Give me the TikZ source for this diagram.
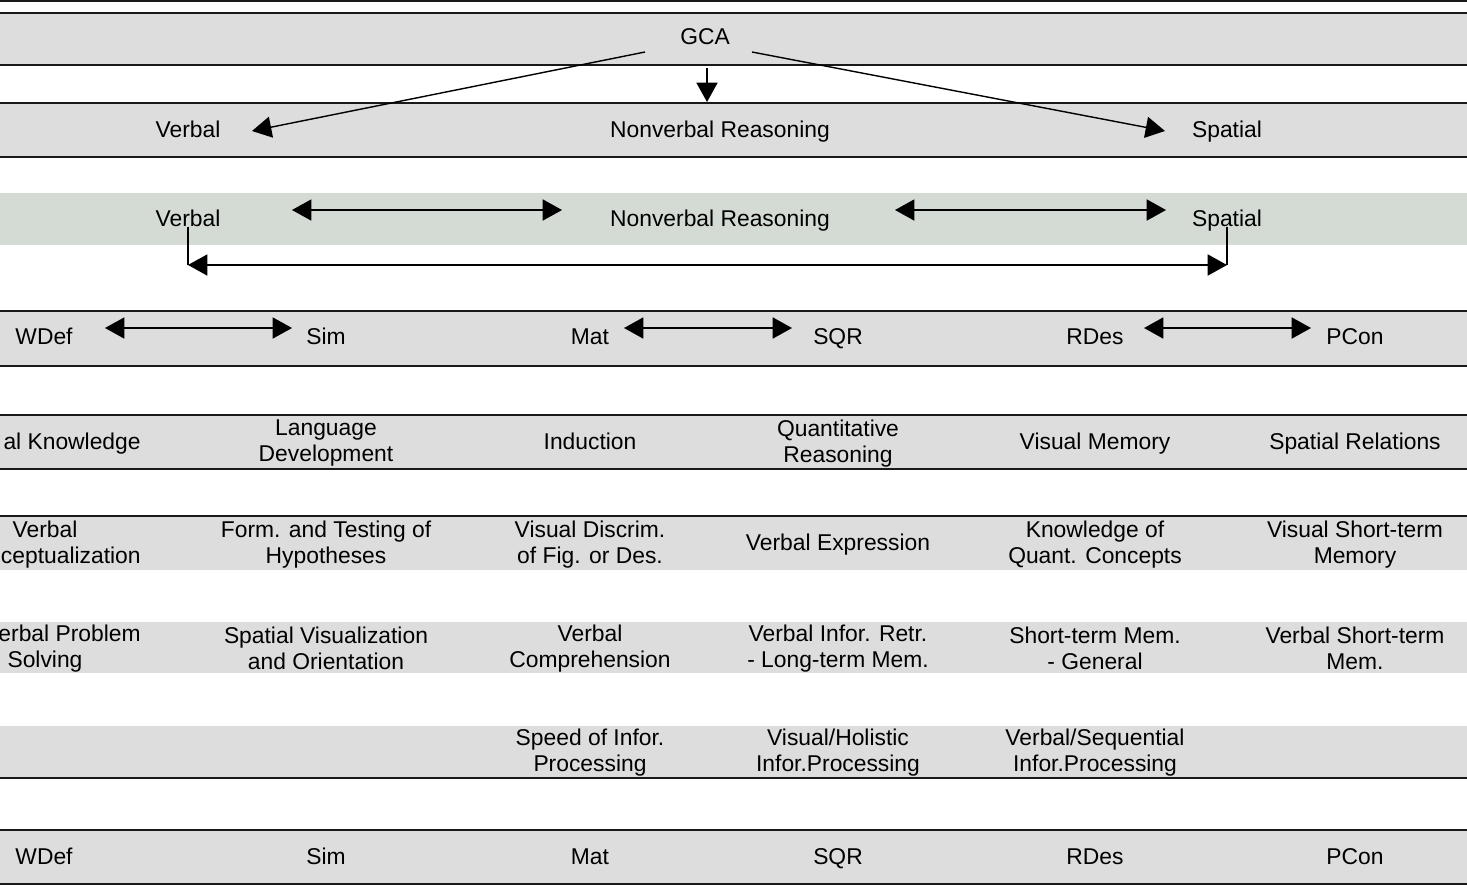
\documentclass[tikz,border=0pt]{standalone}
\usepackage{fontspec}
\setmainfont{Liberation Sans}
\usetikzlibrary{arrows.meta}
\definecolor{bdGray}{RGB}{221,221,221}
\definecolor{bdGreen}{RGB}{212,219,212}
\definecolor{bdLine}{RGB}{25,25,25}

\tikzset{
  lbl/.style={inner sep=0pt, align=center, font=\fontsize{13}{15}\selectfont},
  one/.style={lbl, text height=9.5pt, text depth=0pt},
  two/.style={lbl, yshift=-1.3pt},
  arr/.style={-{Triangle[length=11pt,width=12pt]}, line width=0.8pt},
  dbl/.style={{Triangle[length=11pt,width=12pt]}-{Triangle[length=11pt,width=12pt]}, line width=0.8pt},
  edgeline/.style={bdLine, line width=1.1pt}
}

\begin{document}
\begin{tikzpicture}[x=0.02cm, y=-0.02cm]
  \useasboundingbox (0,0) rectangle (1467,887);

  % Bands
  \fill[bdGray]  (0,13)  rectangle (1467,65);
  \fill[bdGray]  (0,103) rectangle (1467,157);
  \fill[bdGreen] (0,193) rectangle (1467,245);
  \fill[bdGray]  (0,311) rectangle (1467,366);
  \fill[bdGray]  (0,415) rectangle (1467,469);
  \fill[bdGray]  (0,516) rectangle (1467,570);
  \fill[bdGray]  (0,622) rectangle (1467,673);
  \fill[bdGray]  (0,726) rectangle (1467,778);
  \fill[bdGray]  (0,830) rectangle (1467,884);

  % Band borders
  \draw[edgeline] (0,1) -- (1467,1);
  \draw[edgeline] (0,13) -- (1467,13);
  \draw[edgeline] (0,65) -- (1467,65);
  \draw[edgeline] (0,103) -- (1467,103);
  \draw[edgeline] (0,157) -- (1467,157);
  \draw[edgeline] (0,311) -- (1467,311);
  \draw[edgeline] (0,366) -- (1467,366);
  \draw[edgeline] (0,415) -- (1467,415);
  \draw[edgeline] (0,469) -- (1467,469);
  \draw[edgeline] (0,516) -- (1467,516);
  \draw[edgeline] (0,778) -- (1467,778);
  \draw[edgeline] (0,830) -- (1467,830);
  \draw[edgeline] (0,884) -- (1467,884);

  % Top levels
  \node[one] (gca) at (705,36) {GCA};
  \node[one] (vb2) at (188,129) {Verbal};
  \node[one] (nv2) at (720,129) {Nonverbal Reasoning};
  \node[one] (sp2) at (1227,129) {Spatial};
  \node[one] (vb3) at (188,218) {Verbal};
  \node[one] (nv3) at (720,218) {Nonverbal Reasoning};
  \node[one] (sp3) at (1227,218) {Spatial};

  % Subtests
  \node[one] (wdef) at (44,336) {WDef};
  \node[one] (sim)  at (326,336) {Sim};
  \node[one] (mat)  at (590,336) {Mat};
  \node[one] (sqr)  at (838,336) {SQR};
  \node[one] (rdes) at (1095,336) {RDes};
  \node[one] (pcon) at (1355,336) {PCon};

  % Abilities
  \node[one, anchor=east] (lex) at (141,441) {al Knowledge};
  \node[two] (lang) at (326,441) {Language\\Development};
  \node[one] (ind)  at (590,441) {Induction};
  \node[two] (quan) at (838,441) {Quantitative\\Reasoning};
  \node[one] (vmem) at (1095,441) {Visual Memory};
  \node[one] (srel) at (1355,441) {Spatial Relations};

  \node[one] (vcon1) at (45,529) {Verbal};
  \node[one, anchor=east] (vcon2) at (141,555) {ceptualization};
  \node[two] (hyp)  at (326,542) {Form. and Testing of\\Hypotheses};
  \node[two] (vdis) at (590,542) {Visual Discrim.\\of Fig. or Des.};
  \node[one] (vexp) at (838,542) {Verbal Expression};
  \node[two] (kqc)  at (1095,542) {Knowledge of\\Quant. Concepts};
  \node[two] (vstm) at (1355,542) {Visual Short-term\\Memory};

  \node[one, anchor=east] (vps1) at (141,633) {erbal Problem};
  \node[one] (vps2) at (45,659) {Solving};
  \node[two] (svo)  at (326,646) {Spatial Visualization\\and Orientation};
  \node[two] (vcom) at (590,646) {Verbal\\Comprehension};
  \node[two] (vir)  at (838,646) {Verbal Infor. Retr.\\- Long-term Mem.};
  \node[two] (stmg) at (1095,646) {Short-term Mem.\\- General};
  \node[two] (vbst) at (1355,646) {Verbal Short-term\\Mem.};

  \node[two] (spd)  at (590,750) {Speed of Infor.\\Processing};
  \node[two] (vhol) at (838,750) {Visual/Holistic\\Infor.Processing};
  \node[two] (vseq) at (1095,750) {Verbal/Sequential\\Infor.Processing};

  \node[one] (wdefB) at (44,856) {WDef};
  \node[one] (simB)  at (326,856) {Sim};
  \node[one] (matB)  at (590,856) {Mat};
  \node[one] (sqrB)  at (838,856) {SQR};
  \node[one] (rdesB) at (1095,856) {RDes};
  \node[one] (pconB) at (1355,856) {PCon};

  % Arrow ends
  \coordinate (gcaL) at (645,52);
  \coordinate (gcaR) at (752,52);
  \coordinate (gcaD) at (707,68);
  \coordinate (vbTip) at (252,131);
  \coordinate (nvTip) at (707,102);
  \coordinate (spTip) at (1165,131);
  \coordinate (a1) at (292,210);
  \coordinate (a2) at (562,210);
  \coordinate (a3) at (895,210);
  \coordinate (a4) at (1166,210);
  \coordinate (brL) at (188,265);
  \coordinate (brR) at (1227,265);
  \coordinate (s1) at (105,328);
  \coordinate (s2) at (292,328);
  \coordinate (s3) at (624,328);
  \coordinate (s4) at (792,328);
  \coordinate (s5) at (1144,328);
  \coordinate (s6) at (1311,328);

  % Connectors
  \draw[arr] (gcaL) -- (vbTip);
  \draw[arr] (gcaR) -- (spTip);
  \draw[arr] (gcaD) -- (nvTip);
  \draw[dbl] (a1) -- (a2);
  \draw[dbl] (a3) -- (a4);
  \draw[line width=0.8pt] (vb3.south) -- (brL);
  \draw[line width=0.8pt] (sp3.south) -- (brR);
  \draw[dbl] (brL) -- (brR);
  \draw[dbl] (s1) -- (s2);
  \draw[dbl] (s3) -- (s4);
  \draw[dbl] (s5) -- (s6);
\end{tikzpicture}
\end{document}
